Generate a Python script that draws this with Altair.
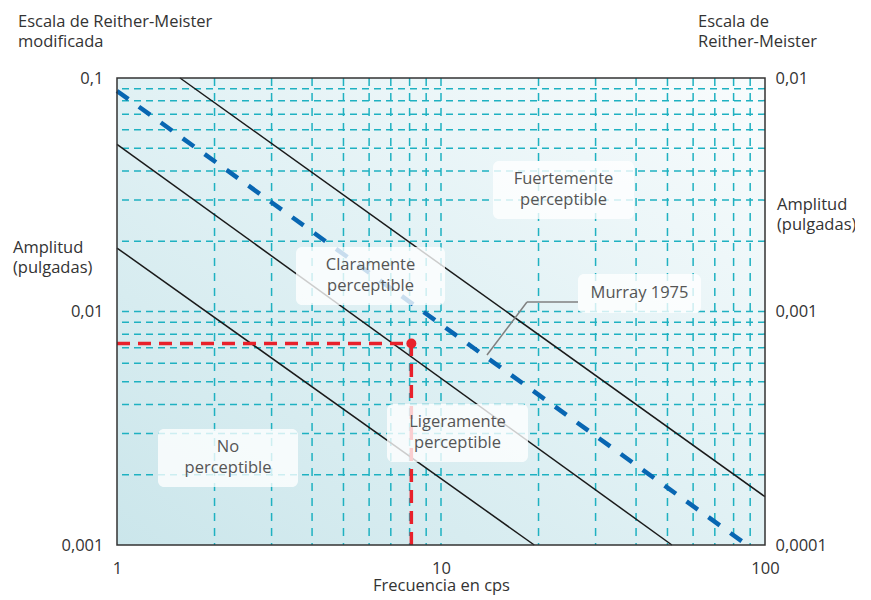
import altair as alt
import pandas as pd

# ---------------- chart values ----------------
grid_amp = [0.002, 0.003, 0.004, 0.005, 0.006, 0.007, 0.008, 0.009, 0.01,
            0.02, 0.03, 0.04, 0.05, 0.06, 0.07, 0.08, 0.09]
grid_freq = [2, 3, 4, 5, 6, 7, 8, 9, 10, 20, 30, 40, 50, 60, 70, 80, 90]

line_id = ["l1", "l1", "l2", "l2", "l3", "l3"]
line_freq = [1.565, 100, 1, 51.6, 1, 19.4]
line_amp = [0.1, 0.00161, 0.052, 0.001, 0.0187, 0.001]

murray_freq = [1, 88]
murray_amp = [0.088, 0.001]

red_freq = [1, 8.1, 8.1]
red_amp = [0.0073, 0.0073, 0.001]

dot_freq = [8.1]
dot_amp = [0.0073]

x_ticks = [1, 10, 100]
y_ticks_left = [0.001, 0.01, 0.1]
y_ticks_right = [0.0001, 0.001, 0.01]

zone_labels = ["Fuertemente\nperceptible", "Murray 1975", "Claramente\nperceptible",
               "Ligeramente\nperceptible", "No\nperceptible"]

# ---------------- annotation layout (pixels inside the plot area) ----------------
box_x0 = [376, 461, 179, 270, 41]
box_x1 = [517, 584, 328, 411, 181]
box_y0 = [83, 196, 169, 326, 351]
box_y1 = [141, 235, 227, 384, 409]

FONT = "Open Sans"
FS = 16.5
LH = 21
W, H = 648, 467

xs = alt.Scale(type="log", domain=[1, 100])
ys = alt.Scale(type="log", domain=[0.001, 0.1])

lbl_left = "replace(format(datum.value, '.3~f'), '.', ',')"
lbl_right = "replace(format(datum.value, '.4~f'), '.', ',')"

X_AXIS = alt.Axis(
    values=x_ticks, labelExpr="format(datum.value, '~g')", grid=False, ticks=False,
    domain=False, labelFlush=False, labelFont=FONT, labelFontSize=FS,
    labelColor="#333", labelPadding=15, title="Frecuencia en cps", titleFont=FONT,
    titleFontSize=FS, titleFontWeight="normal", titleColor="#333",
    titleY=45, titleBaseline="alphabetic", zindex=1, orient="bottom")
Y_AXIS = alt.Axis(
    values=y_ticks_left, labelExpr=lbl_left, grid=False, ticks=False,
    domain=False, labelFont=FONT, labelFontSize=FS, labelColor="#333",
    labelPadding=14, title=None, zindex=1, orient="left")

# background with gradient
bg_df = pd.DataFrame({"f0": [1], "f1": [100], "a0": [0.001], "a1": [0.1]})
grad = alt.LinearGradient(
    gradient="linear",
    stops=[alt.GradientStop(color="#cbe6eb", offset=0),
           alt.GradientStop(color="#e3f2f5", offset=0.55),
           alt.GradientStop(color="#f9fcfd", offset=1)],
    x1=0, y1=1, x2=1, y2=0)
bg = alt.Chart(bg_df).mark_rect(color=grad).encode(
    x=alt.X("f0:Q", scale=xs, axis=X_AXIS),
    x2="f1:Q",
    y=alt.Y("a0:Q", scale=ys, axis=Y_AXIS),
    y2="a1:Q",
)

gh = alt.Chart(pd.DataFrame({"a": grid_amp})).mark_rule(
    color="#1fb1c1", strokeWidth=1.5, strokeDash=[7, 5]).encode(
    y=alt.Y("a:Q", scale=ys, axis=None))
gv = alt.Chart(pd.DataFrame({"f": grid_freq})).mark_rule(
    color="#1fb1c1", strokeWidth=1.5, strokeDash=[8, 7]).encode(
    x=alt.X("f:Q", scale=xs, axis=None))

lines_df = pd.DataFrame({"id": line_id, "f": line_freq, "a": line_amp})
solid = alt.Chart(lines_df).mark_line(color="#1a1a1a", strokeWidth=1.5).encode(
    x=alt.X("f:Q", scale=xs, axis=None),
    y=alt.Y("a:Q", scale=ys, axis=None),
    detail="id:N")

murray = alt.Chart(pd.DataFrame({"f": murray_freq, "a": murray_amp})).mark_line(
    color="#0866b2", strokeWidth=4.5, strokeDash=[14, 13]).encode(
    x=alt.X("f:Q", scale=xs, axis=None),
    y=alt.Y("a:Q", scale=ys, axis=None))

red_df = pd.DataFrame({"f": red_freq, "a": red_amp, "o": [0, 1, 2]})
red = alt.Chart(red_df).mark_line(color="#e8212b", strokeWidth=3.5,
                                  strokeDash=[13, 8]).encode(
    x=alt.X("f:Q", scale=xs, axis=None),
    y=alt.Y("a:Q", scale=ys, axis=None),
    order="o:Q")
dot = alt.Chart(pd.DataFrame({"f": dot_freq, "a": dot_amp})).mark_circle(
    color="#e8212b", size=100, opacity=1).encode(
    x=alt.X("f:Q", scale=xs, axis=None),
    y=alt.Y("a:Q", scale=ys, axis=None))

border = alt.Chart(bg_df).mark_rect(fillOpacity=0, stroke="#333", strokeWidth=1.5).encode(
    x=alt.X("f0:Q", scale=xs, axis=None), x2="f1:Q",
    y=alt.Y("a0:Q", scale=ys, axis=None), y2="a1:Q")

leader_df = pd.DataFrame({"x": [370, 410], "y": [277, 224], "x2": [410, 461], "y2": [224, 224]})
leader = alt.Chart(leader_df).mark_rule(color="#808080", strokeWidth=1.5).encode(
    x=alt.X("x:Q", scale=None, axis=None), y=alt.Y("y:Q", scale=None, axis=None),
    x2="x2:Q", y2="y2:Q")

ann = pd.DataFrame({"t": zone_labels, "x0": box_x0, "x1": box_x1,
                    "y0": box_y0, "y1": box_y1})
ann["cx"] = (ann.x0 + ann.x1) / 2
nlines = ann.t.str.count("\n")
ann["ty"] = (ann.y0 + ann.y1) / 2 - nlines * LH / 2 - 1
boxes = alt.Chart(ann).mark_rect(fill="white", opacity=0.78, cornerRadius=6).encode(
    x=alt.X("x0:Q", scale=None, axis=None), x2="x1:Q",
    y=alt.Y("y0:Q", scale=None, axis=None), y2="y1:Q")
texts = alt.Chart(ann).mark_text(font=FONT, fontSize=FS, color="#555",
                                 lineBreak="\n", lineHeight=LH,
                                 align="center", baseline="middle").encode(
    x=alt.X("cx:Q", scale=None, axis=None), y=alt.Y("ty:Q", scale=None, axis=None),
    text="t:N")

# outer titles: y is the baseline of the first line (plot-area pixels)
outer = pd.DataFrame({
    "t": ["Escala de Reither-Meister\nmodificada", "Escala de\nReither-Meister",
          "Amplitud\n(pulgadas)", "Amplitud\n(pulgadas)"],
    "x": [-99, 581, -104, 660],
    "y": [-51, -51, 175, 132],
})
outer_t = alt.Chart(outer).mark_text(font=FONT, fontSize=FS, color="#333",
                                     lineBreak="\n", lineHeight=20,
                                     align="left", baseline="alphabetic").encode(
    x=alt.X("x:Q", scale=None, axis=None), y=alt.Y("y:Q", scale=None, axis=None),
    text="t:N")

right = alt.Chart(pd.DataFrame({"a": [0.0001, 0.01]})).mark_point(opacity=0).encode(
    y=alt.Y("a:Q", scale=alt.Scale(type="log", domain=[0.0001, 0.01]),
            axis=alt.Axis(orient="right", values=y_ticks_right, labelExpr=lbl_right,
                          grid=False, ticks=False, domain=False, labelFont=FONT,
                          labelFontSize=FS, labelColor="#333", labelPadding=10,
                          title=None, zindex=1)))

chart = alt.layer(bg, gh, gv, solid, murray, red, dot, border, leader, boxes,
                  texts, outer_t, right).resolve_scale(
    x="independent", y="independent").properties(
    width=W, height=H,
    padding={"left": 109, "top": 70, "right": 90, "bottom": 50},
    autosize=alt.AutoSizeParams(type="none"),
    background="white",
).configure_view(stroke=None)

chart.save("out.html", embed_options={"renderer": "svg", "actions": False})
